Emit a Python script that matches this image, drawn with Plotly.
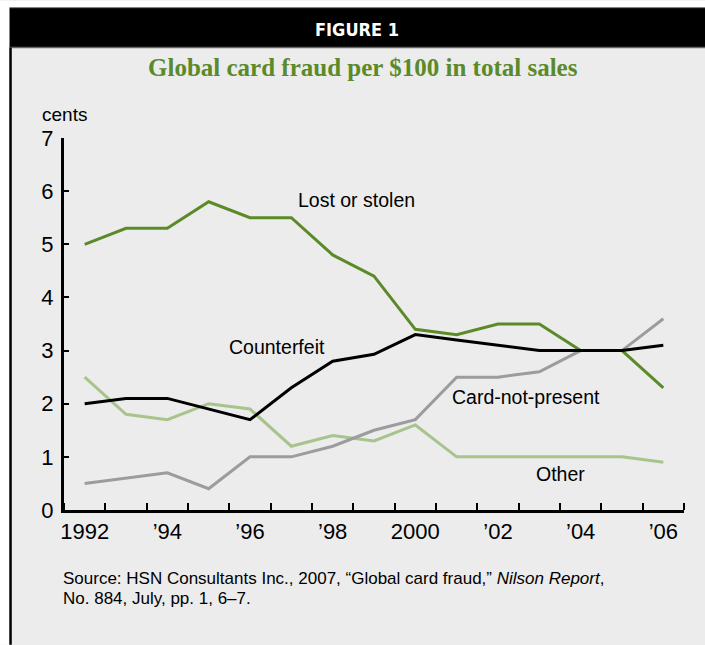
import plotly.graph_objects as go

years = list(range(1992, 2007))
lost_or_stolen = [5.0, 5.3, 5.3, 5.8, 5.5, 5.5, 4.8, 4.4, 3.4, 3.3, 3.5, 3.5, 3.0, 3.0, 2.3]
counterfeit = [2.0, 2.1, 2.1, 1.9, 1.7, 2.3, 2.8, 2.93, 3.3, 3.2, 3.1, 3.0, 3.0, 3.0, 3.1]
card_not_present = [0.5, 0.6, 0.7, 0.4, 1.0, 1.0, 1.2, 1.5, 1.7, 2.5, 2.5, 2.6, 3.0, 3.0, 3.6]
other = [2.5, 1.8, 1.7, 2.0, 1.9, 1.2, 1.4, 1.3, 1.6, 1.0, 1.0, 1.0, 1.0, 1.0, 0.9]

tick_years = [1992, 1994, 1996, 1998, 2000, 2002, 2004, 2006]
tick_labels = ["1992", "\u201994", "\u201996", "\u201998", "2000", "\u201902", "\u201904", "\u201906"]
boundaries = [y + 0.5 for y in range(1991, 2007)]

W, H = 705, 645
L, R, T, B = 64.4, 683.6, 137.5, 510.0
PW, PH = R - L, B - T


def px(x):
    return (x - L) / PW


def py(y):
    return (B - y) / PH


BG = "#ececec"
SANS = "Liberation Sans, Arial, sans-serif"

fig = go.Figure()
series = [
    ("Lost or stolen", lost_or_stolen, "#5b8a29"),
    ("Other", other, "#a6c48c"),
    ("Card-not-present", card_not_present, "#9c9c9e"),
    ("Counterfeit", counterfeit, "#000000"),
]
for name, vals, col in series:
    fig.add_trace(go.Scatter(x=years, y=vals, mode="lines", name=name,
                             line=dict(color=col, width=3), showlegend=False,
                             hoverinfo="skip"))

shapes = [
    dict(type="rect", xref="paper", yref="paper", x0=px(0), x1=px(10), y0=py(645), y1=py(0),
         fillcolor="white", line=dict(width=0), layer="below"),
    dict(type="rect", xref="paper", yref="paper", x0=px(0), x1=px(705), y0=py(7), y1=py(0),
         fillcolor="white", line=dict(width=0), layer="below"),
    dict(type="rect", xref="paper", yref="paper", x0=px(10), x1=px(705), y0=py(47), y1=py(7),
         fillcolor="black", line=dict(width=0), layer="below"),
    dict(type="line", xref="paper", yref="paper", x0=px(10), x1=px(705), y0=py(7), y1=py(7),
         line=dict(color="#777777", width=1), layer="below"),
    dict(type="line", xref="paper", yref="paper", x0=px(10), x1=px(705), y0=py(47), y1=py(47),
         line=dict(color="#666666", width=1.5), layer="below"),
    dict(type="line", xref="paper", yref="paper", x0=px(11), x1=px(11), y0=py(47), y1=py(645),
         line=dict(color="black", width=2.5), layer="below"),
]

LBL = 19.5
annotations = [
    dict(text="<b>FIGURE 1</b>", x=px(357), y=py(29), xref="paper", yref="paper",
         showarrow=False, xanchor="center", yanchor="middle",
         font=dict(family="Liberation Sans Narrow, DejaVu Sans Condensed, Arial Narrow, sans-serif",
                   size=18, color="white")),
    dict(text="<b>Global card fraud per $100 in total sales</b>", x=px(363), y=py(67),
         xref="paper", yref="paper", showarrow=False, xanchor="center", yanchor="middle",
         font=dict(family="Liberation Serif, Times New Roman, serif", size=25, color="#5a8a2a")),
    dict(text="cents", x=px(40), y=py(114), xref="paper", yref="paper", showarrow=False,
         xanchor="left", yanchor="middle", font=dict(family=SANS, size=19, color="black")),
    dict(text="Lost or stolen", x=px(357), y=py(200), xref="paper", yref="paper", showarrow=False,
         xanchor="center", yanchor="middle", font=dict(family=SANS, size=LBL, color="black")),
    dict(text="Counterfeit", x=px(277), y=py(347), xref="paper", yref="paper", showarrow=False,
         xanchor="center", yanchor="middle", font=dict(family=SANS, size=LBL, color="black")),
    dict(text="Card-not-present", x=px(526), y=py(397), xref="paper", yref="paper", showarrow=False,
         xanchor="center", yanchor="middle", font=dict(family=SANS, size=LBL, color="black")),
    dict(text="Other", x=px(560), y=py(474), xref="paper", yref="paper", showarrow=False,
         xanchor="center", yanchor="middle", font=dict(family=SANS, size=LBL, color="black")),
    dict(text="Source: HSN Consultants Inc., 2007, \u201cGlobal card fraud,\u201d <i>Nilson Report</i>,",
         x=px(61), y=py(579), xref="paper", yref="paper", showarrow=False,
         xanchor="left", yanchor="middle", align="left",
         font=dict(family=SANS, size=17, color="black")),
    dict(text="No. 884, July, pp. 1, 6\u20137.",
         x=px(61), y=py(599), xref="paper", yref="paper", showarrow=False,
         xanchor="left", yanchor="middle", align="left",
         font=dict(family=SANS, size=17, color="black")),
]

fig.update_layout(
    width=W, height=H,
    margin=dict(l=L, r=W - R, t=T, b=H - B, pad=0),
    paper_bgcolor=BG, plot_bgcolor=BG,
    shapes=shapes, annotations=annotations,
    xaxis=dict(range=[1991.5, 2006.5], tickmode="array", tickvals=tick_years, ticktext=tick_labels,
               ticks="", showgrid=False, zeroline=False, showline=True, linecolor="black",
               linewidth=3, ticklabelstandoff=0,
               tickfont=dict(family=SANS, size=22, color="black"),
               minor=dict(tickmode="array", tickvals=boundaries, ticks="inside", ticklen=7,
                          tickwidth=2, tickcolor="black", showgrid=False)),
    yaxis=dict(range=[0, 7], tickmode="array", tickvals=list(range(0, 8)),
               ticks="inside", ticklen=5, tickwidth=2, tickcolor="black",
               showgrid=False, zeroline=False, showline=True, linecolor="black", linewidth=3,
               ticklabelstandoff=3,
               tickfont=dict(family=SANS, size=22, color="black")),
)

fig.write_html("out.html", config={"displayModeBar": False},
               post_script="document.body.style.margin='0';")
